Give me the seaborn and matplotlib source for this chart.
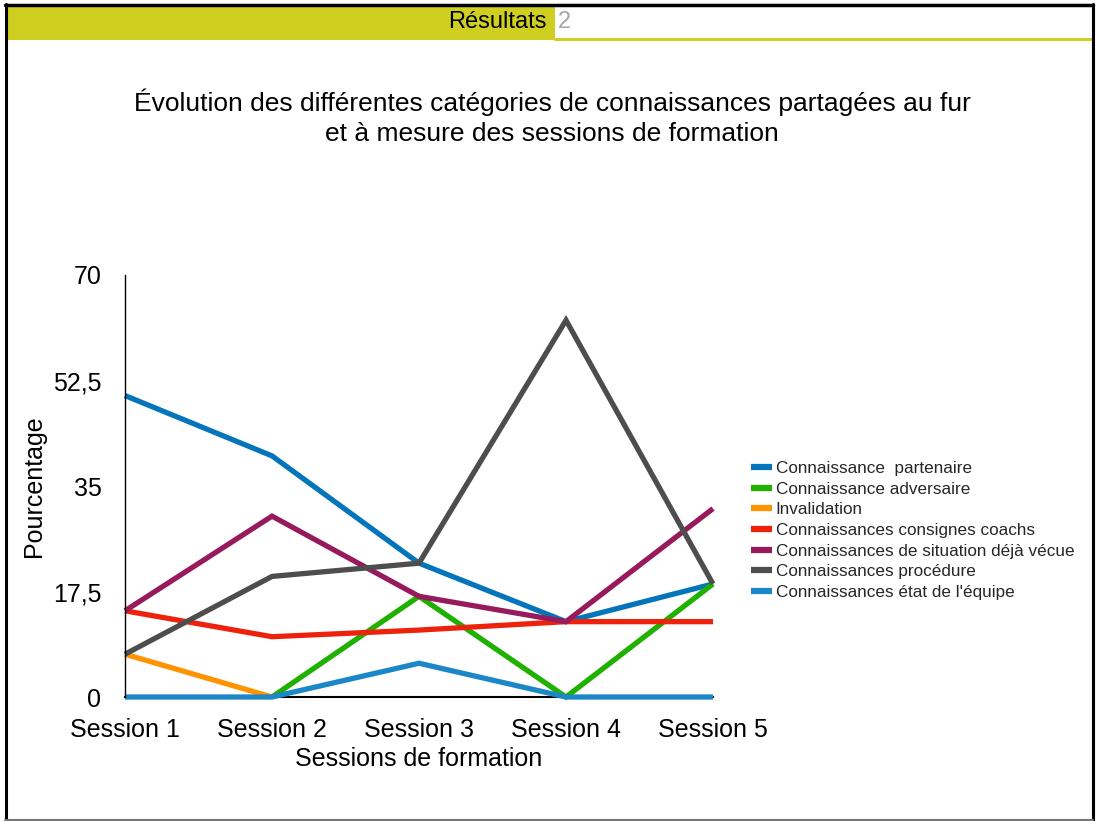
import matplotlib
matplotlib.use("Agg")
import matplotlib.pyplot as plt
from matplotlib.patches import Rectangle
from matplotlib.lines import Line2D
import seaborn as sns
import pandas as pd

sessions = ["Session 1", "Session 2", "Session 3", "Session 4", "Session 5"]
categories = [
    "Connaissance  partenaire",
    "Connaissance adversaire",
    "Invalidation",
    "Connaissances consignes coachs",
    "Connaissances de situation déjà vécue",
    "Connaissances procédure",
    "Connaissances état de l'équipe",
]
partenaire = [50.0, 40.0, 22.2, 12.5, 18.75]
adversaire = [None, 0.0, 16.7, 0.0, 18.75]
invalidation = [7.1, 0.0, None, None, None]
consignes = [14.3, 10.0, 11.1, 12.5, 12.5]
situation = [14.3, 30.0, 16.7, 12.5, 31.25]
procedure = [7.1, 20.0, 22.2, 62.5, 18.75]
etat = [0.0, 0.0, 5.6, 0.0, 0.0]
series = [partenaire, adversaire, invalidation, consignes, situation, procedure, etat]
colors = ["#0475BA", "#20B000", "#FF9400", "#EE220C", "#961A5C", "#4D4D4D", "#1C87C6"]
yticks = [0, 17.5, 35, 52.5, 70]
ytick_labels = ["0", "17,5", "35", "52,5", "70"]

rows = []
for cat, vals in zip(categories, series):
    for s, v in zip(sessions, vals):
        if v is not None:
            rows.append({"Session": s, "Pourcentage": v, "Catégorie": cat})
df = pd.DataFrame(rows)

sns.set_theme(style="white")
plt.rcParams["font.family"] = ["Liberation Sans", "DejaVu Sans"]

W, H = 1097, 821
fig = plt.figure(figsize=(W / 100, H / 100), dpi=100)
fig.patch.set_facecolor("white")

def fx(px):
    return px / W

def fy(py):
    return 1 - py / H

# slide frame and header
fig.patches.append(Rectangle((fx(8), fy(40)), fx(555) - fx(8), fy(7) - fy(40),
                             transform=fig.transFigure, facecolor="#CFCF22", edgecolor="none", zorder=0))
fig.lines.append(Line2D([fx(555), fx(1092)], [fy(39), fy(39)], transform=fig.transFigure,
                        color="#CFCF22", linewidth=2.2))
fig.lines.append(Line2D([fx(5), fx(1093)], [fy(5), fy(5)], transform=fig.transFigure,
                        color="black", linewidth=2.5))
fig.lines.append(Line2D([fx(6), fx(6)], [fy(4), fy(821)], transform=fig.transFigure,
                        color="black", linewidth=2.2))
fig.lines.append(Line2D([fx(1092.5), fx(1092.5)], [fy(4), fy(821)], transform=fig.transFigure,
                        color="black", linewidth=2.2))
fig.lines.append(Line2D([fx(5), fx(1093)], [fy(820), fy(820)], transform=fig.transFigure,
                        color="#777777", linewidth=1.5))
fig.text(fx(547), fy(22), "Résultats", ha="right", va="center", fontsize=17, color="black")
fig.text(fx(558), fy(22), "2", ha="left", va="center", fontsize=17, color="#A6A6A6")

fig.text(fx(552), fy(117.5), "Évolution des différentes catégories de connaissances partagées au fur\net à mesure des sessions de formation",
         ha="center", va="center", fontsize=19, linespacing=1.32, color="black")

ax = fig.add_axes([fx(125), fy(697), fx(713) - fx(125), fy(275) - fy(697)])
palette = dict(zip(categories, colors))
sns.lineplot(data=df, x="Session", y="Pourcentage", hue="Catégorie", hue_order=categories,
             palette=palette, linewidth=3.8, sort=False, ax=ax, legend=True)
for ln in ax.get_lines():
    ln.set_solid_joinstyle("miter")
    ln.set_solid_capstyle("butt")
    ln.set_clip_on(False)

ax.set_xlim(0, 4)
ax.set_ylim(0, 70)
ax.set_yticks(yticks)
ax.set_yticklabels(ytick_labels)
ax.tick_params(axis="both", length=0, labelsize=18, colors="black")
ax.tick_params(axis="y", pad=17)
ax.tick_params(axis="x", pad=15)
for side in ["top", "right"]:
    ax.spines[side].set_visible(False)
ax.spines["left"].set_color("black")
ax.spines["left"].set_linewidth(1.0)
ax.spines["bottom"].set_color("black")
ax.spines["bottom"].set_linewidth(1.5)
ax.spines["bottom"].set_zorder(0.5)
ax.grid(False)
ax.set_facecolor("white")

ax.set_xlabel("Sessions de formation", fontsize=18, color="black")
ax.set_ylabel("Pourcentage", fontsize=18, color="black")
ax.xaxis.set_label_coords(0.5, (697 - 747) / 422)
ax.yaxis.set_label_coords((46 - 125) / 588, 0.5)

handles, labels = ax.get_legend_handles_labels()
ax.get_legend().remove()
leg = fig.legend(handles, labels, loc="upper left", bbox_to_anchor=(fx(751), fy(461)),
                 frameon=False, fontsize=12.3, handlelength=1.25, handletextpad=0.2,
                 labelspacing=0.33, borderpad=0, borderaxespad=0)
for h in leg.legend_handles:
    h.set_linewidth(4.5)
    h.set_solid_capstyle("butt")

fig.savefig("out.png", dpi=100)
